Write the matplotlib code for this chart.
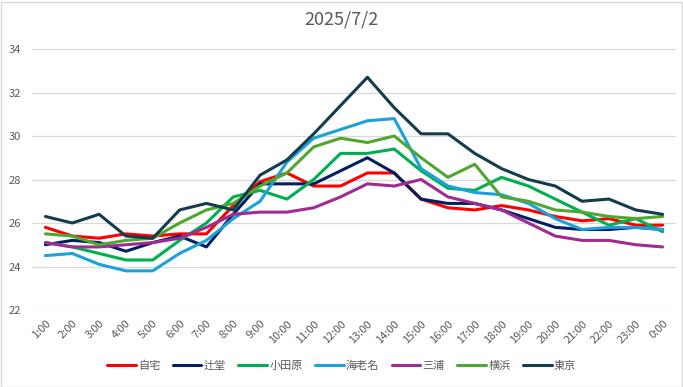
import matplotlib
matplotlib.use("Agg")
import matplotlib.pyplot as plt
from matplotlib.patches import Rectangle

plt.rcParams['font.family'] = ['Noto Sans CJK JP', 'DejaVu Sans']

hours = ["1:00", "2:00", "3:00", "4:00", "5:00", "6:00", "7:00", "8:00",
         "9:00", "10:00", "11:00", "12:00", "13:00", "14:00", "15:00", "16:00",
         "17:00", "18:00", "19:00", "20:00", "21:00", "22:00", "23:00", "0:00"]

jitaku = [25.8, 25.4, 25.3, 25.5, 25.4, 25.5, 25.5, 26.8, 27.9, 28.3, 27.7, 27.7,
          28.3, 28.3, 27.1, 26.7, 26.6, 26.8, 26.6, 26.3, 26.1, 26.2, 25.9, 25.9]
tsujido = [25.0, 25.2, 25.1, 24.7, 25.1, 25.4, 24.9, 26.4, 27.8, 27.8, 27.8, 28.4,
           29.0, 28.3, 27.1, 26.9, 26.9, 26.6, 26.2, 25.8, 25.7, 25.7, 25.8, 25.7]
odawara = [25.1, 24.9, 24.6, 24.3, 24.3, 25.2, 26.0, 27.2, 27.5, 27.1, 28.0, 29.2,
           29.2, 29.4, 28.4, 27.6, 27.5, 28.1, 27.7, 27.1, 26.5, 25.9, 26.2, 25.6]
ebina = [24.5, 24.6, 24.1, 23.8, 23.8, 24.6, 25.2, 26.2, 27.0, 28.8, 29.9, 30.3,
         30.7, 30.8, 28.5, 27.7, 27.4, 27.3, 26.9, 26.2, 25.7, 25.8, 25.8, 25.7]
miura = [25.1, 24.9, 24.9, 25.0, 25.1, 25.3, 25.8, 26.4, 26.5, 26.5, 26.7, 27.2,
         27.8, 27.7, 28.0, 27.2, 26.9, 26.6, 26.0, 25.4, 25.2, 25.2, 25.0, 24.9]
yokohama = [25.5, 25.4, 25.0, 25.2, 25.3, 26.0, 26.6, 26.9, 27.7, 28.3, 29.5, 29.9,
            29.7, 30.0, 29.0, 28.1, 28.7, 27.2, 27.0, 26.6, 26.5, 26.3, 26.2, 26.3]
tokyo = [26.3, 26.0, 26.4, 25.4, 25.3, 26.6, 26.9, 26.6, 28.2, 28.9, 30.1, 31.4,
         32.7, 31.3, 30.1, 30.1, 29.2, 28.5, 28.0, 27.7, 27.0, 27.1, 26.6, 26.4]

series = [
    ("自宅", jitaku, "#FF0000"),
    ("辻堂", tsujido, "#002060"),
    ("小田原", odawara, "#00B050"),
    ("海老名", ebina, "#1BA1DC"),
    ("三浦", miura, "#A02B93"),
    ("横浜", yokohama, "#4EA72E"),
    ("東京", tokyo, "#133C4C"),
]

fig = plt.figure(figsize=(6.83, 3.87), dpi=100)
ax = fig.add_axes([32 / 683, 1 - 310 / 387, 644 / 683, 261 / 387])

x = list(range(len(hours)))
for name, vals, color in series:
    ax.plot(x, vals, color=color, linewidth=2.2, label=name, solid_capstyle='round')

ax.set_xlim(-0.5, len(hours) - 0.5)
ax.set_ylim(22, 34)
ax.set_yticks(range(22, 35, 2))
ax.set_xticks(x)
ax.set_xticklabels(hours, rotation=45, ha='right', rotation_mode='anchor')
ax.tick_params(axis='both', length=0, labelsize=8, labelcolor='#595959')
ax.tick_params(axis='x', pad=6)
ax.tick_params(axis='y', pad=8)
ax.grid(axis='y', color='#D9D9D9', linewidth=0.9)
ax.set_axisbelow(True)
for s in ax.spines.values():
    s.set_visible(False)

fig.text(0.5, 1 - 20 / 387, "2025/7/2", ha='center', va='center',
         fontsize=13, color='#595959')

fig.legend(loc='center', bbox_to_anchor=(0.5, 1 - 366 / 387), ncol=7,
           frameon=False, fontsize=8, handlelength=2.6, columnspacing=1.1,
           handletextpad=0.2, labelcolor='#595959')

fig.patches.append(Rectangle((0.5 / 683, 0.5 / 387), 681 / 683, 385 / 387,
                             transform=fig.transFigure, fill=False,
                             edgecolor='#D9D9D9', linewidth=1))

fig.savefig("out.png", dpi=100, facecolor='white')
